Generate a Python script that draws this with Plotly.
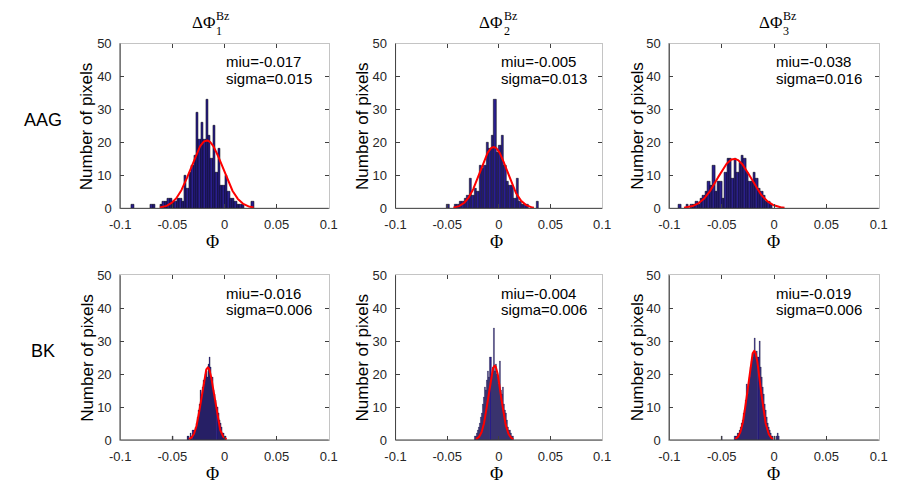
import numpy as np
import plotly.graph_objects as go

# ---- histogram data: first bin centre, bin width, pixel counts per bin ----
aag1_start, aag1_width = -0.0881, 0.0023
aag1_counts = [1, 0, 0, 0, 0, 0, 0, 0, 1, 1, 0, 0,
               1, 2, 2, 3, 3, 2, 2, 3, 3, 2, 10, 6, 11, 13, 16, 29, 21, 26, 21, 33,
               22, 15, 25, 11, 18, 7, 7, 10, 5, 3, 3, 2, 1, 1, 1, 0, 0, 0, 2]

aag2_start, aag2_width = -0.0491, 0.0024
aag2_counts = [1, 0, 0, 1, 1, 2, 2, 3, 4, 9, 4, 6, 5, 13, 12, 13, 20, 18, 22, 33,
               17, 19, 22, 13, 8, 7, 7, 3, 9, 2, 1, 1, 1, 0, 0, 0, 2]

aag3_start, aag3_width = -0.0899, 0.0023
aag3_counts = [1, 0, 0, 1, 0, 1, 1,
               2, 1, 3, 4, 5, 8, 7, 13, 5, 8, 8, 3, 11, 15, 15, 9, 15, 11, 14, 16,
               15, 11, 8, 8, 11, 9, 6, 5, 4, 2, 2, 1]

bk1_start, bk1_width = -0.050, 0.001
bk1_counts = [1, 0, 0, 0, 0, 0, 0, 0, 0, 0, 0, 0, 0, 0, 0,
              1, 1, 0, 2, 1, 3, 2, 4, 5, 7, 9, 11, 15, 13, 16, 18, 17, 20, 21, 19,
              23, 25, 22, 18, 19, 15, 14, 12, 10, 8, 6, 5, 4, 2, 2, 1, 1]

bk2_start, bk2_width = -0.023, 0.001
bk2_counts = [1, 1, 2, 3, 4, 5, 7, 8, 11, 13, 16, 15, 18, 21, 19, 25, 20, 22, 34,
              21, 23, 20, 19, 17, 24, 15, 14, 16, 11, 9, 8, 6, 4, 3, 3, 2, 1, 1]

bk3_start, bk3_width = -0.050, 0.001
bk3_counts = [1, 0, 0, 0, 0, 0, 0, 0, 0, 0, 0, 0, 0,
              1, 1, 2, 2, 3, 4, 5, 6, 8, 9, 12, 17, 14, 17, 19, 22, 24, 25, 27, 31,
              26, 27, 25, 30, 22, 19, 16, 14, 11, 9, 7, 5, 4, 3, 2, 1, 1, 0, 1, 0,
              1, 2, 1]

# ---- Gaussian fit parameters (mean, std, peak height) ----
fit_miu = [-0.017, -0.005, -0.038, -0.016, -0.004, -0.019]
fit_sigma = [0.015, 0.013, 0.016, 0.006, 0.006, 0.006]
fit_peak = [20.6, 18.6, 15.0, 22.0, 22.5, 27.0]

# ---- labels ----
row_labels = ["AAG", "BK"]
col_index = ["1", "2", "3"]
x_ticks = [-0.1, -0.05, 0, 0.05, 0.1]
x_ticktext = ["-0.1", "-0.05", "0", "0.05", "0.1"]
y_ticks = [0, 10, 20, 30, 40, 50]

hists = [
    (aag1_start, aag1_width, aag1_counts),
    (aag2_start, aag2_width, aag2_counts),
    (aag3_start, aag3_width, aag3_counts),
    (bk1_start, bk1_width, bk1_counts),
    (bk2_start, bk2_width, bk2_counts),
    (bk3_start, bk3_width, bk3_counts),
]

W, H = 900, 489


def px(x):
    return x / W


def py(y):
    return 1 - y / H


# plot-area pixel boxes
col_px = [(111.7, 325.0), (393.3, 604.5), (673.3, 887.5)]
row_px = [(37.7, 207.7), (276.7, 446.7)]

BAR_FILL = "#2a1f8e"
SANS = "Liberation Sans, Arial, sans-serif"
SERIF = "Liberation Serif, Times New Roman, serif"
AX_DARK = "#404040"
AX_LIGHT = "#c4c4c4"

fig = go.Figure()
layout = dict(
    width=W, height=H,
    margin=dict(l=0, r=0, t=0, b=0),
    paper_bgcolor="white", plot_bgcolor="white",
    showlegend=False,
    bargap=0,
)
annotations = []
shapes = []

for k, (start, width, counts) in enumerate(hists):
    r, c = divmod(k, 3)
    n = k + 1
    xa = "x" if n == 1 else f"x{n}"
    ya = "y" if n == 1 else f"y{n}"
    counts = np.asarray(counts, dtype=float)
    centers = start + width * np.arange(len(counts))
    keep = counts > 0
    fig.add_trace(go.Bar(
        x=centers[keep], y=counts[keep], width=width,
        marker=dict(color=BAR_FILL,
                    line=dict(color="black", width=0.5 if r == 0 else 0.25)),
        xaxis=xa, yaxis=ya, hoverinfo="skip",
    ))
    # fitted normal curve over mean +/- 3 sigma
    m, s, a = fit_miu[k], fit_sigma[k], fit_peak[k]
    xs = np.linspace(m - 3 * s, m + 3 * s, 200)
    fig.add_trace(go.Scatter(
        x=xs, y=a * np.exp(-0.5 * ((xs - m) / s) ** 2),
        mode="lines", line=dict(color="#ff0000", width=2),
        xaxis=xa, yaxis=ya, hoverinfo="skip",
    ))

    x0, x1 = col_px[c]
    y0, y1 = row_px[r]
    key_x = "xaxis" if n == 1 else f"xaxis{n}"
    key_y = "yaxis" if n == 1 else f"yaxis{n}"
    layout[key_x] = dict(
        domain=[px(x0), px(x1)], anchor=ya, range=[-0.1, 0.1],
        tickvals=x_ticks, ticktext=x_ticktext, ticks="inside", ticklen=4,
        tickcolor=AX_DARK, showline=True, linecolor=AX_LIGHT, linewidth=1,
        mirror="ticks", showgrid=False, zeroline=False, fixedrange=True,
        ticklabelstandoff=4,
        tickfont=dict(family=SANS, size=13, color="#262626"),
    )
    layout[key_y] = dict(
        domain=[py(y1), py(y0)], anchor=xa, range=[0, 50],
        tickvals=y_ticks, ticks="inside", ticklen=4,
        tickcolor=AX_DARK, showline=True, linecolor=AX_LIGHT, linewidth=1,
        mirror="ticks", showgrid=False, zeroline=False, fixedrange=True,
        ticklabelstandoff=5,
        tickfont=dict(family=SANS, size=13, color="#262626"),
    )
    # darker left and bottom axis lines
    shapes.append(dict(type="line", xref=f"{xa} domain", yref=f"{ya} domain",
                       x0=0, x1=0, y0=0, y1=1, line=dict(color=AX_DARK, width=1),
                       layer="above"))
    shapes.append(dict(type="line", xref=f"{xa} domain", yref=f"{ya} domain",
                       x0=0, x1=1, y0=0, y1=0, line=dict(color=AX_DARK, width=1),
                       layer="above"))

    # fit statistics text
    annotations.append(dict(
        x=0, y=44.5, xref=xa, yref=ya, xanchor="left", yanchor="middle",
        text=f"miu={m:.3f}", showarrow=False,
        font=dict(family=SANS, size=15, color="black"),
    ))
    annotations.append(dict(
        x=0, y=39.5, xref=xa, yref=ya, xanchor="left", yanchor="middle",
        text=f"sigma={s:.3f}", showarrow=False,
        font=dict(family=SANS, size=15, color="black"),
    ))

    # axis titles
    ylab_x = [78, 360, 641][c]
    annotations.append(dict(
        x=px(ylab_x), y=py((y0 + y1) / 2), xref="paper", yref="paper",
        xanchor="center", yanchor="middle", textangle=-90,
        text="Number of pixels", showarrow=False,
        font=dict(family=SANS, size=17, color="black"),
    ))
    xlab_x = [206, 497, 780][c]
    annotations.append(dict(
        x=px(xlab_x), y=py(y1 + 35), xref="paper", yref="paper",
        xanchor="center", yanchor="middle",
        text="Φ", showarrow=False,
        font=dict(family=SERIF, size=18, color="black"),
    ))

# column titles: ΔΦ with stacked superscript Bz and subscript index
title_left = [183, 477, 763]
for c in range(3):
    xl = title_left[c]
    annotations.append(dict(
        x=px(xl), y=py(16), xref="paper", yref="paper",
        xanchor="left", yanchor="middle", text="ΔΦ", showarrow=False,
        font=dict(family=SERIF, size=17, color="black"),
    ))
    annotations.append(dict(
        x=px(xl + 25), y=py(9.5), xref="paper", yref="paper",
        xanchor="left", yanchor="middle", text="Bz", showarrow=False,
        font=dict(family=SERIF, size=12, color="black"),
    ))
    annotations.append(dict(
        x=px(xl + 25), y=py(24.5), xref="paper", yref="paper",
        xanchor="left", yanchor="middle", text=col_index[c], showarrow=False,
        font=dict(family=SERIF, size=12, color="black"),
    ))

# row labels
for r, lab in enumerate(row_labels):
    annotations.append(dict(
        x=px(33), y=py([117, 355][r]), xref="paper", yref="paper",
        xanchor="center", yanchor="middle", text=lab, showarrow=False,
        font=dict(family=SANS, size=18, color="black"),
    ))

layout["annotations"] = annotations
layout["shapes"] = shapes
fig.update_layout(**layout)
fig.write_html("out.html")
